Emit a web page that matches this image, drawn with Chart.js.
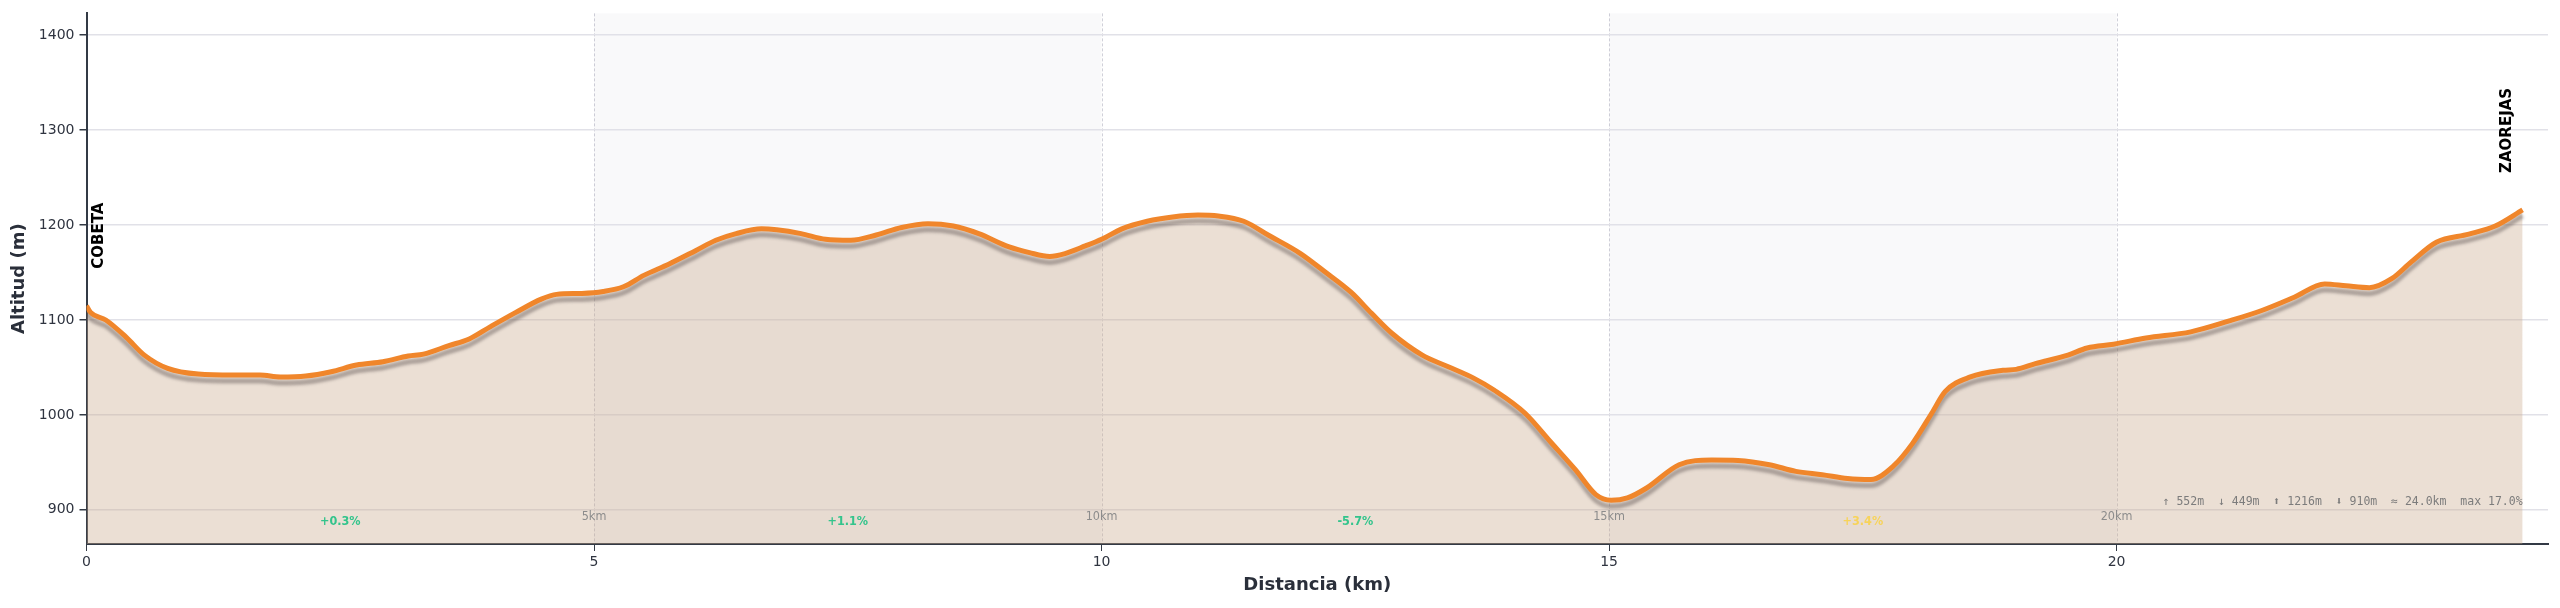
<!DOCTYPE html>
<html>
<head>
<meta charset="utf-8">
<script src="https://cdn.jsdelivr.net/npm/chart.js@4.4.1/dist/chart.umd.min.js"></script>
<style>
  html, body { margin: 0; padding: 0; background: #ffffff; }
  #perfil { display: block; }
</style>
</head>
<body>
<canvas id="perfil" width="2560" height="608"></canvas>
<script>
const distKm = [
  0, 0.04, 0.19, 0.39, 0.57, 0.80, 1.10, 1.45, 1.71, 1.91, 2.16, 2.41, 2.66, 2.92,
  3.17, 3.32, 3.57, 3.77, 3.98, 4.23, 4.48, 4.63, 4.88, 5.09, 5.29, 5.49, 5.74, 6.00,
  6.20, 6.40, 6.65, 6.80, 7.04, 7.28, 7.53, 7.78, 8.03, 8.29, 8.54, 8.79, 9.09, 9.29,
  9.49, 9.64, 9.84, 10.00, 10.20, 10.45, 10.70, 10.95, 11.15, 11.40, 11.65, 11.96,
  12.21, 12.46, 12.66, 12.86, 13.16, 13.41, 13.67, 13.87, 14.17, 14.42, 14.67, 14.87,
  15.02, 15.18, 15.37, 15.69, 16.01, 16.27, 16.58, 16.84, 17.10, 17.35, 17.58, 17.80,
  17.99, 18.18, 18.31, 18.56, 18.88, 19.01, 19.20, 19.52, 19.71, 19.97, 20.29, 20.73,
  21.11, 21.43, 21.75, 22.05, 22.26, 22.49, 22.71, 22.90, 23.15, 23.47, 23.73, 24.00
];
const elevM = [
  1115, 1108, 1100, 1082, 1063, 1049, 1043, 1042, 1042, 1040, 1041, 1045.5, 1052.5, 1056,
  1062, 1064, 1073, 1080, 1093, 1108, 1122, 1127, 1128, 1130, 1135, 1147, 1159, 1173,
  1184, 1191, 1196, 1195, 1191, 1185, 1184, 1189.5, 1197.5, 1201.5, 1199, 1191, 1177, 1171,
  1167, 1170, 1178, 1185, 1196, 1204, 1208.5, 1210.5, 1209.5, 1204, 1189, 1170,
  1150, 1129, 1107, 1086, 1063, 1051, 1038.5, 1026, 1002, 972, 942, 916,
  910, 912.5, 923, 947.5, 952.5, 952, 947.5, 940.5, 937, 933, 932, 946,
  970, 1002, 1024.5, 1040, 1047, 1048, 1054, 1063, 1070.5, 1074.5, 1081, 1087.5,
  1099, 1110, 1124, 1138, 1136, 1134, 1143.5, 1161, 1182, 1190.5, 1199, 1216
];

const kmMarks = [5, 10, 15, 20];
const bandas = [[5, 10], [15, 20]];
const pendienteKm = [2.5, 7.5, 12.5, 17.5];
const pendienteTxt = ["+0.3%", "+1.1%", "-5.7%", "+3.4%"];
const pendienteColor = ["#33c48c", "#33c48c", "#33c48c", "#f7d35a"];
const lugares = ["COBETA", "ZAOREJAS"];
const resumen = "\u2191 552m  \u2193 449m  \u2B06 1216m  \u2B07 910m  \u2248 24.0km  max 17.0%";

const puntos = distKm.map((d, i) => ({ x: d, y: elevM[i] }));

const fondoPlugin = {
  id: "fondo",
  beforeDraw(chart) {
    const { ctx, chartArea, scales } = chart;
    ctx.save();
    ctx.fillStyle = "#f9f9fa";
    bandas.forEach(([a, b]) => {
      const x1 = scales.x.getPixelForValue(a);
      const x2 = scales.x.getPixelForValue(b);
      ctx.fillRect(x1, chartArea.top, x2 - x1, chartArea.bottom - chartArea.top);
    });
    ctx.strokeStyle = "rgba(150,150,170,0.45)";
    ctx.lineWidth = 1;
    ctx.setLineDash([3, 2]);
    kmMarks.forEach((km) => {
      const x = Math.round(scales.x.getPixelForValue(km)) + 0.5;
      ctx.beginPath();
      ctx.moveTo(x, chartArea.top);
      ctx.lineTo(x, chartArea.bottom);
      ctx.stroke();
    });
    ctx.restore();
  },
};

const sombraPlugin = {
  id: "sombra",
  beforeDatasetDraw(chart, args) {
    if (args.index !== 0) return;
    const ctx = chart.ctx;
    ctx.save();
    ctx.shadowColor = "rgba(70,60,60,0.38)";
    ctx.shadowOffsetX = 0;
    ctx.shadowOffsetY = 6;
    ctx.shadowBlur = 3;
  },
  afterDatasetDraw(chart, args) {
    if (args.index !== 0) return;
    chart.ctx.restore();
  },
};

const textosPlugin = {
  id: "textos",
  afterDatasetsDraw(chart) {
    const { ctx, chartArea, scales } = chart;
    ctx.save();
    // etiquetas de km
    ctx.font = "12.5px 'DejaVu Sans Condensed', 'DejaVu Sans', sans-serif";
    ctx.fillStyle = "#8c8c8c";
    ctx.textAlign = "center";
    ctx.textBaseline = "middle";
    kmMarks.forEach((km) => {
      ctx.fillText(km + "km", scales.x.getPixelForValue(km), chartArea.bottom - 27);
    });
    // pendientes
    ctx.font = "bold 12.5px 'DejaVu Sans Condensed', 'DejaVu Sans', sans-serif";
    pendienteKm.forEach((km, i) => {
      ctx.fillStyle = pendienteColor[i];
      ctx.fillText(pendienteTxt[i], scales.x.getPixelForValue(km), chartArea.bottom - 22);
    });
    // resumen
    ctx.font = "11.5px 'DejaVu Sans Mono', monospace";
    ctx.fillStyle = "#7c7c7c";
    ctx.textAlign = "right";
    const xFin = scales.x.getPixelForValue(distKm[distKm.length - 1]);
    ctx.fillText(resumen, xFin, chartArea.bottom - 42);
    // nombres de inicio y fin
    ctx.font = "bold 15px 'DejaVu Sans', sans-serif";
    ctx.fillStyle = "#000000";
    ctx.textAlign = "left";
    const ends = [0, distKm.length - 1];
    ends.forEach((idx, i) => {
      const px = scales.x.getPixelForValue(distKm[idx]);
      const py = scales.y.getPixelForValue(elevM[idx]);
      ctx.save();
      ctx.translate(i === 0 ? px + 13 : px - 16, py - 37);
      ctx.rotate(-Math.PI / 2);
      ctx.fillText(lugares[i], 0, 0);
      ctx.restore();
    });
    ctx.restore();
  },
};

const cxt = document.getElementById("perfil");
const myChart = new Chart(cxt, {
  type: "line",
  data: {
    datasets: [
      {
        data: puntos,
        borderColor: "#f0862b",
        borderWidth: 5,
        fill: false,
        pointRadius: 0,
        cubicInterpolationMode: "monotone",
        order: 0,
      },
      {
        data: puntos,
        borderWidth: 0,
        backgroundColor: "rgba(200,168,138,0.37)",
        fill: "start",
        pointRadius: 0,
        cubicInterpolationMode: "monotone",
        order: 1,
      },
    ],
  },
  options: {
    responsive: false,
    devicePixelRatio: 1,
    animation: false,
    layout: { padding: { left: 5, right: 12, top: 12, bottom: 8 } },
    plugins: {
      legend: { display: false },
      tooltip: { enabled: false },
    },
    scales: {
      x: {
        type: "linear",
        min: 0,
        max: 24.25,
        afterFit: (scale) => { scale.height = 56; },
        grid: {
          drawOnChartArea: false,
          tickLength: 7,
          tickColor: "#333a45",
        },
        border: { color: "#333a45", width: 2 },
        ticks: {
          stepSize: 5,
          includeBounds: false,
          padding: 3,
          color: "#2f3440",
          font: { family: "'DejaVu Sans', sans-serif", size: 14 },
          callback: (v) => String(v),
        },
        title: {
          display: true,
          text: "Distancia (km)",
          color: "#2a2f3a",
          font: { family: "'DejaVu Sans', sans-serif", size: 18, weight: "bold" },
        },
      },
      y: {
        min: 864,
        max: 1423,
        afterFit: (scale) => { scale.width = 81.5; },
        grid: {
          color: "#e1e1e8",
          lineWidth: 1.5,
          tickLength: 7,
          tickColor: "#333a45",
        },
        border: { color: "#333a45", width: 2 },
        ticks: {
          stepSize: 100,
          includeBounds: false,
          padding: 5,
          color: "#2f3440",
          font: { family: "'DejaVu Sans', sans-serif", size: 14 },
          callback: (v) => String(v),
        },
        title: {
          display: true,
          text: "Altitud (m)",
          color: "#2a2f3a",
          font: { family: "'DejaVu Sans', sans-serif", size: 18, weight: "bold" },
        },
      },
    },
  },
  plugins: [fondoPlugin, sombraPlugin, textosPlugin],
});
</script>
</body>
</html>
